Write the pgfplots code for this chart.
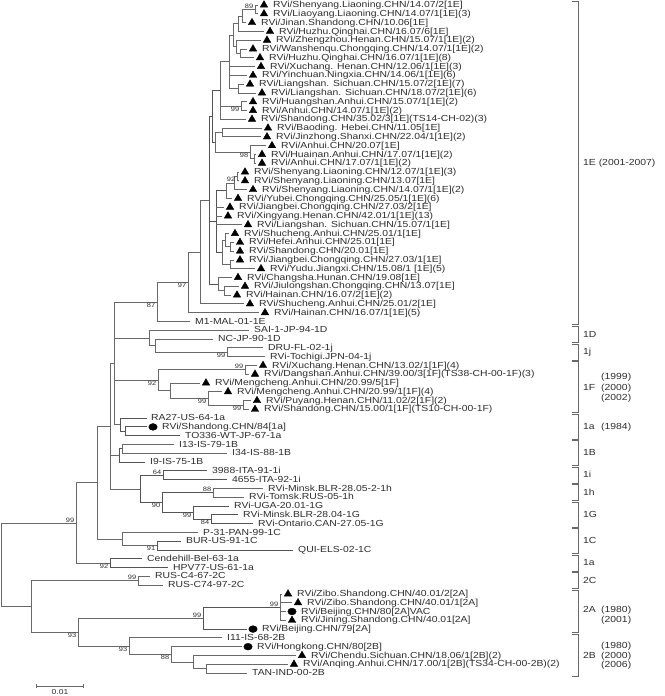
\documentclass[border=0pt]{standalone}
\usepackage{pgfplots}
\pgfplotsset{compat=1.18}
\usepackage{fontspec}
\setmainfont{Liberation Sans}[FakeStretch=1.18]
\definecolor{br}{RGB}{105,105,105}
\definecolor{txt}{RGB}{45,45,45}
\tikzset{
  lbl/.style={anchor=mid west, inner sep=0pt, font=\fontsize{8.8}{9}\selectfont, text=txt},
  bs/.style={inner sep=0.6pt, font=\fontsize{6.3}{7}\selectfont, text=txt},
}
\newcommand\lab[3]{\node[lbl] at (axis cs:#1,#2) {#3};}
\newcommand\bsa[3]{\node[bs, anchor=south east] at (axis cs:#1,#2) {#3};}
\newcommand\bsb[3]{\node[bs, anchor=north east] at (axis cs:#1,#2) {#3};}
\begin{document}
\begin{tikzpicture}
\begin{axis}[scale only axis, width=664pt, height=696pt,
  xmin=0, xmax=664, ymin=-0.569, ymax=78.612, y dir=reverse,
  hide axis, clip=false,
  br/.style={color=br, line width=0.8pt, no markers},
  bk/.style={color=br!80!black, line width=0.9pt, no markers}]
% ---------- genotype 1E ----------
\addplot[br] coordinates {(258,0)(255,0)(255,1)(258,1)};
\addplot[br] coordinates {(255,0.5)(242,0.5)(242,2)(246,2)};
\addplot[br] coordinates {(242,1.25)(238,1.25)(238,3)(264,3)};
\addplot[br] coordinates {(247,5)(240,5)(240,6)(254,6)};
\addplot[br] coordinates {(261,4)(236,4)(236,5.5)(240,5.5)};
\addplot[br] coordinates {(238,2.125)(233,2.125)(233,4.75)(236,4.75)};
\addplot[br] coordinates {(244,9)(238,9)(238,10)(256,10)};
\addplot[br] coordinates {(233,3.4375)(229,3.4375)(229,9.5)(238,9.5)};
\addplot[br] coordinates {(229,7)(255,7)};
\addplot[br] coordinates {(229,8)(247,8)};
\addplot[br] coordinates {(247,11)(241,11)(241,12)(247,12)};
\addplot[br] coordinates {(229,6.469)(220,6.469)(220,13)(246,13)};
\addplot[br] coordinates {(220,11.5)(241,11.5)};
\addplot[br] coordinates {(262,14)(222,14)(222,15)(261,15)};
\addplot[br] coordinates {(256,17)(254,17)(254,18)(256,18)};
\addplot[br] coordinates {(266,16)(250,16)(250,17.5)(254,17.5)};
\addplot[br] coordinates {(222,14.5)(215,14.5)(215,16.75)(250,16.75)};
\addplot[bk] coordinates {(220,9.734)(212,9.734)(212,15.625)(215,15.625)};
\addplot[br] coordinates {(239,19)(237,19)(237,20)(239,20)};
\addplot[br] coordinates {(237,19.5)(234,19.5)(234,21)(247,21)};
\addplot[br] coordinates {(234,20.25)(226,20.25)(226,22)(232,22)};
\addplot[br] coordinates {(234,27)(230,27)(230,28)(234,28)};
\addplot[br] coordinates {(229,26)(225,26)(225,27.5)(230,27.5)};
\addplot[br] coordinates {(234,29)(230,29)(230,30)(255,30)};
\addplot[br] coordinates {(225,26.75)(222,26.75)(222,29.5)(230,29.5)};
\addplot[br] coordinates {(239,32)(224,32)(224,33)(231,33)};
\addplot[br] coordinates {(232,31)(218,31)(218,32.5)(224,32.5)};
\addplot[bk] coordinates {(226,21.125)(216,21.125)(216,28.125)(222,28.125)};
\addplot[br] coordinates {(216,23)(224,23)};
\addplot[br] coordinates {(216,24)(222,24)};
\addplot[br] coordinates {(216,25)(242,25)};
\addplot[bk] coordinates {(212,12.68)(209,12.68)(209,31.75)(218,31.75)};
\addplot[bk] coordinates {(209,24.6)(216,24.6)};
\addplot[br] coordinates {(209,22.2)(200,22.2)(200,34)(244,34)};
\addplot[br] coordinates {(200,28.1)(188,28.1)(188,35)(259,35)};
\addplot[br] coordinates {(188,31.55)(157,31.55)(157,36)(190,36)};
% ---------- 1D, 1j ----------
\addplot[br] coordinates {(263,39)(227,39)(227,40)(265,40)};
\addplot[br] coordinates {(213,38)(155,38)(155,39.5)(227,39.5)};
\addplot[br] coordinates {(249,37)(149,37)(149,38.75)(155,38.75)};
% ---------- 1F ----------
\addplot[br] coordinates {(257,41)(245,41)(245,42)(249,42)};
\addplot[br] coordinates {(251,45)(243,45)(243,46)(249,46)};
\addplot[br] coordinates {(222,44)(208,44)(208,45.5)(243,45.5)};
\addplot[br] coordinates {(200,43)(170,43)(170,44.75)(208,44.75)};
\addplot[br] coordinates {(245,41.5)(158,41.5)(158,43.875)(170,43.875)};
% ---------- 1a ----------
\addplot[bk] coordinates {(147,48)(125,48)(125,49)(180,49)};
\addplot[bk] coordinates {(147,47)(120,47)(120,48.5)(125,48.5)};
\addplot[br] coordinates {(157,33.8)(114,33.8)(114,47.75)(120,47.75)};
\addplot[br] coordinates {(114,37.875)(149,37.875)};
\addplot[br] coordinates {(114,42.69)(158,42.69)};
% ---------- 1B ----------
\addplot[br] coordinates {(174,50)(122,50)(122,51)(227,51)};
\addplot[bk] coordinates {(122,50.5)(119,50.5)(119,52)(145,52)};
% ---------- 1i, 1h, 1G ----------
\addplot[bk] coordinates {(207,53)(163,53)(163,54)(227,54)};
\addplot[br] coordinates {(263,55)(213,55)(213,56)(244,56)};
\addplot[bk] coordinates {(238,58)(211,58)(211,59)(253,59)};
\addplot[bk] coordinates {(229,57)(193,57)(193,58.5)(211,58.5)};
\addplot[bk] coordinates {(213,55.5)(162,55.5)(162,57.75)(193,57.75)};
\addplot[bk] coordinates {(163,53.5)(140,53.5)(140,56.625)(162,56.625)};
\addplot[br] coordinates {(114,40.78)(110,40.78)(110,55.06)(140,55.06)};
\addplot[br] coordinates {(110,51.25)(119,51.25)};
% ---------- 1C ----------
\addplot[bk] coordinates {(181,61)(157,61)(157,62)(293,62)};
\addplot[br] coordinates {(198,60)(122,60)(122,61.5)(157,61.5)};
\addplot[br] coordinates {(110,47.92)(97,47.92)(97,60.75)(122,60.75)};
% ---------- 1a (vaccine) ----------
\addplot[bk] coordinates {(142,63)(110,63)(110,64)(168,64)};
\addplot[br] coordinates {(97,54.33)(76,54.33)(76,63.5)(110,63.5)};
% ---------- genotype 2 ----------
\addplot[br] coordinates {(150,65)(138,65)(138,66)(163,66)};
\addplot[br] coordinates {(282,67)(280,67)(280,70)(286,70)};
\addplot[br] coordinates {(280,68)(292,68)};
\addplot[br] coordinates {(280,69)(286,69)};
\addplot[bk] coordinates {(280,68.5)(203,68.5)(203,71)(247,71)};
\addplot[br] coordinates {(288,75)(206,75)(206,76)(247,76)};
\addplot[br] coordinates {(296,74)(193,74)(193,75.5)(206,75.5)};
\addplot[br] coordinates {(242,73)(171,73)(171,74.75)(193,74.75)};
\addplot[br] coordinates {(222,72)(129,72)(129,73.875)(171,73.875)};
\addplot[br] coordinates {(203,69.75)(78,69.75)(78,72.94)(129,72.94)};
\addplot[br] coordinates {(138,65.5)(31,65.5)(31,71.345)(78,71.345)};
% ---------- root ----------
\addplot[br] coordinates {(76,58.92)(1,58.92)(1,68.42)(31,68.42)};
% ---------- markers ----------
\addplot[only marks, mark=triangle*, mark size=4.3pt, color=black] coordinates {
(264,0)(264,1)(252,2)(270,3)(267,4)(253,5)(260,6)(261,7)(253,8)(250,9)(262,10)
(253,11)(253,12)(252,13)(268,14)(267,15)(272,16)(262,17)(262,18)(245,19)(245,20)
(253,21)(238,22)(230,23)(228,24)(248,25)(235,26)(240,27)(240,28)(240,29)(261,30)
(238,31)(245,32)(237,33)(250,34)(265,35)
(263,41)(255,42)(206,43)(228,44)(257,45)(255,46)
(288,67)(298,68)(292,70)(302,74)(294,75)};
\addplot[only marks, mark=*, mark size=3.4pt, color=black, mark options={xscale=1.25}] coordinates {
(153,48)(292,69)(253,71)(248,73)};
% ---------- leaf labels ----------
\lab{273}{0}{RVi/Shenyang.Liaoning.CHN/14.07/2[1E]}
\lab{273}{1}{RVi/Liaoyang.Liaoning.CHN/14.07/1[1E](3)}
\lab{261}{2}{RVi/Jinan.Shandong.CHN/10.06[1E]}
\lab{279}{3}{RVi/Huzhu.Qinghai.CHN/16.07/6[1E]}
\lab{276}{4}{RVi/Zhengzhou.Henan.CHN/15.07/1[1E](2)}
\lab{262}{5}{RVi/Wanshenqu.Chongqing.CHN/14.07/1[1E](2)}
\lab{269}{6}{RVi/Huzhu.Qinghai.CHN/16.07/1[1E](8)}
\lab{270}{7}{RVi/Xuchang. Henan.CHN/12.06/1[1E](3)}
\lab{262}{8}{RVi/Yinchuan.Ningxia.CHN/14.06/1[1E](6)}
\lab{259}{9}{RVi/Liangshan. Sichuan.CHN/15.07/2[1E](7)}
\lab{271}{10}{RVi/Liangshan. Sichuan.CHN/18.07/2[1E](6)}
\lab{262}{11}{RVi/Huangshan.Anhui.CHN/15.07/1[1E](2)}
\lab{262}{12}{RVi/Anhui.CHN/14.07/1[1E](2)}
\lab{261}{13}{RVi/Shandong.CHN/35.02/3[1E](TS14-CH-02)(3)}
\lab{277}{14}{RVi/Baoding. Hebei.CHN/11.05[1E]}
\lab{276}{15}{RVi/Jinzhong.Shanxi.CHN/22.04/1[1E](2)}
\lab{281}{16}{RVi/Anhui.CHN/20.07[1E]}
\lab{271}{17}{RVi/Huainan.Anhui.CHN/17.07/1[1E](2)}
\lab{271}{18}{RVi/Anhui.CHN/17.07/1[1E](2)}
\lab{254}{19}{RVi/Shenyang.Liaoning.CHN/12.07/1[1E](3)}
\lab{254}{20}{RVi/Shenyang.Liaoning.CHN/13.07[1E]}
\lab{262}{21}{RVi/Shenyang.Liaoning.CHN/14.07/1[1E](2)}
\lab{247}{22}{RVi/Yubei.Chongqing.CHN/25.05/1[1E](6)}
\lab{239}{23}{RVi/Jiangbei.Chongqing.CHN/27.03/2[1E]}
\lab{237}{24}{RVi/Xingyang.Henan.CHN/42.01/1[1E](13)}
\lab{257}{25}{RVi/Liangshan. Sichuan.CHN/15.07/1[1E]}
\lab{244}{26}{RVi/Shucheng.Anhui.CHN/25.01/1[1E]}
\lab{249}{27}{RVi/Hefei.Anhui.CHN/25.01[1E]}
\lab{249}{28}{RVi/Shandong.CHN/20.01[1E]}
\lab{249}{29}{RVi/Jiangbei.Chongqing.CHN/27.03/1[1E]}
\lab{270}{30}{RVi/Yudu.Jiangxi.CHN/15.08/1 [1E](5)}
\lab{247}{31}{RVi/Changsha.Hunan.CHN/19.08[1E]}
\lab{254}{32}{RVi/Jiulongshan.Chongqing.CHN/13.07[1E]}
\lab{246}{33}{RVi/Hainan.CHN/16.07/2[1E](2)}
\lab{259}{34}{RVi/Shucheng.Anhui.CHN/25.01/2[1E]}
\lab{274}{35}{RVi/Hainan.CHN/16.07/1[1E](5)}
\lab{195}{36}{M1-MAL-01-1E}
\lab{254}{37}{SAI-1-JP-94-1D}
\lab{218}{38}{NC-JP-90-1D}
\lab{268}{39}{DRU-FL-02-1j}
\lab{270}{40}{RVi-Tochigi.JPN-04-1j}
\lab{272}{41}{RVi/Xuchang.Henan.CHN/13.02/1[1F](4)}
\lab{264}{42}{RVi/Dangshan.Anhui.CHN/39.00/3[1F](TS38-CH-00-1F)(3)}
\lab{215}{43}{RVi/Mengcheng.Anhui.CHN/20.99/5[1F]}
\lab{237}{44}{RVi/Mengcheng.Anhui.CHN/20.99/1[1F](4)}
\lab{266}{45}{RVi/Puyang.Henan.CHN/11.02/2[1F](2)}
\lab{264}{46}{RVi/Shandong.CHN/15.00/1[1F](TS10-CH-00-1F)}
\lab{151}{47}{RA27-US-64-1a}
\lab{162}{48}{RVi/Shandong.CHN/84[1a]}
\lab{185}{49}{TO336-WT-JP-67-1a}
\lab{179}{50}{I13-IS-79-1B}
\lab{232}{51}{I34-IS-88-1B}
\lab{150}{52}{I9-IS-75-1B}
\lab{212}{53}{3988-ITA-91-1i}
\lab{232}{54}{4655-ITA-92-1i}
\lab{268}{55}{RVi-Minsk.BLR-28.05-2-1h}
\lab{249}{56}{RVi-Tomsk.RUS-05-1h}
\lab{234}{57}{RVi-UGA-20.01-1G}
\lab{243}{58}{RVi-Minsk.BLR-28.04-1G}
\lab{258}{59}{RVi-Ontario.CAN-27.05-1G}
\lab{203}{60}{P-31-PAN-99-1C}
\lab{186}{61}{BUR-US-91-1C}
\lab{298}{62}{QUI-ELS-02-1C}
\lab{147}{63}{Cendehill-Bel-63-1a}
\lab{173}{64}{HPV77-US-61-1a}
\lab{155}{65}{RUS-C4-67-2C}
\lab{168}{66}{RUS-C74-97-2C}
\lab{297}{67}{RVi/Zibo.Shandong.CHN/40.01/2[2A]}
\lab{307}{68}{RVi/Zibo.Shandong.CHN/40.01/1[2A]}
\lab{301}{69}{RVi/Beijing.CHN/80[2A]VAC}
\lab{301}{70}{RVi/Jining.Shandong.CHN/40.01[2A]}
\lab{262}{71}{RVi/Beijing.CHN/79[2A]}
\lab{227}{72}{I11-IS-68-2B}
\lab{257}{73}{RVi/Hongkong.CHN/80[2B]}
\lab{311}{74}{RVi/Chendu.Sichuan.CHN/18.06/1[2B](2)}
\lab{303}{75}{RVi/Anqing.Anhui.CHN/17.00/1[2B](TS34-CH-00-2B)(2)}
\lab{252}{76}{TAN-IND-00-2B}
% ---------- bootstrap values ----------
\bsa{254}{0.5}{89}
\bsb{240}{11.5}{99}
\bsb{249}{16.75}{98}
\bsb{236}{19.5}{92}
\bsb{187}{31.55}{97}
\bsb{156}{33.8}{87}
\bsb{226}{39.5}{99}
\bsa{244}{41.5}{99}
\bsb{157}{42.69}{92}
\bsb{207}{44.75}{99}
\bsb{242}{45.5}{99}
\bsa{162}{53.5}{64}
\bsa{212}{55.5}{88}
\bsb{161}{56.625}{90}
\bsb{192}{57.75}{99}
\bsb{210}{58.5}{84}
\bsb{156}{61.5}{91}
\bsa{75}{58.92}{99}
\bsb{109}{63.5}{92}
\bsa{137}{65.5}{99}
\bsa{202}{69.75}{99}
\bsa{279}{68.5}{99}
\bsb{77}{71.345}{93}
\bsb{128}{72.94}{93}
\bsb{170}{73.875}{88}
% ---------- group brackets ----------
\addplot[br, line width=1pt] coordinates {(572,-0.4)(578,-0.4)(578,36.4)(572,36.4)};
\addplot[br, line width=1pt] coordinates {(572,36.6)(578,36.6)(578,38.4)(572,38.4)};
\addplot[br, line width=1pt] coordinates {(572,38.6)(578,38.6)(578,40.4)(572,40.4)};
\addplot[br, line width=1pt] coordinates {(572,40.6)(578,40.6)(578,46.4)(572,46.4)};
\addplot[br, line width=1pt] coordinates {(572,46.6)(578,46.6)(578,49.4)(572,49.4)};
\addplot[br, line width=1pt] coordinates {(572,49.6)(578,49.6)(578,52.4)(572,52.4)};
\addplot[br, line width=1pt] coordinates {(572,52.6)(578,52.6)(578,54.4)(572,54.4)};
\addplot[br, line width=1pt] coordinates {(572,54.6)(578,54.6)(578,56.4)(572,56.4)};
\addplot[br, line width=1pt] coordinates {(572,56.6)(578,56.6)(578,59.4)(572,59.4)};
\addplot[br, line width=1pt] coordinates {(572,59.6)(578,59.6)(578,62.4)(572,62.4)};
\addplot[br, line width=1pt] coordinates {(572,62.6)(578,62.6)(578,64.4)(572,64.4)};
\addplot[br, line width=1pt] coordinates {(572,64.6)(578,64.6)(578,66.4)(572,66.4)};
\addplot[br, line width=1pt] coordinates {(572,66.6)(578,66.6)(578,71.4)(572,71.4)};
\addplot[br, line width=1pt] coordinates {(572,71.6)(578,71.6)(578,76.4)(572,76.4)};
\lab{583}{18}{1E (2001-2007)}
\lab{583}{37.5}{1D}
\lab{583}{39.5}{1j}
\lab{583}{43.5}{1F}
\lab{601}{42.3}{(1999)}
\lab{601}{43.5}{(2000)}
\lab{601}{44.7}{(2002)}
\lab{583}{48}{1a}
\lab{601}{48}{(1984)}
\lab{583}{51}{1B}
\lab{583}{53.5}{1i}
\lab{583}{55.5}{1h}
\lab{583}{58}{1G}
\lab{583}{61}{1C}
\lab{583}{63.5}{1a}
\lab{583}{65.5}{2C}
\lab{583}{68.8}{2A}
\lab{601}{68.8}{(1980)}
\lab{601}{69.9}{(2001)}
\lab{601}{72.9}{(1980)}
\lab{583}{74}{2B}
\lab{601}{74}{(2000)}
\lab{601}{75.1}{(2006)}
% ---------- scale bar ----------
\addplot[br] coordinates {(36,77.5)(83,77.5)};
\addplot[br] coordinates {(36,77.3)(36,77.7)};
\addplot[br] coordinates {(83,77.3)(83,77.7)};
\node[bs, anchor=center, font=\fontsize{7.2}{8}\selectfont] at (axis cs:60,78.2) {0.01};
\end{axis}
\pgfresetboundingbox
\useasboundingbox (0,0) rectangle (664pt,696pt);
\end{tikzpicture}
\end{document}
